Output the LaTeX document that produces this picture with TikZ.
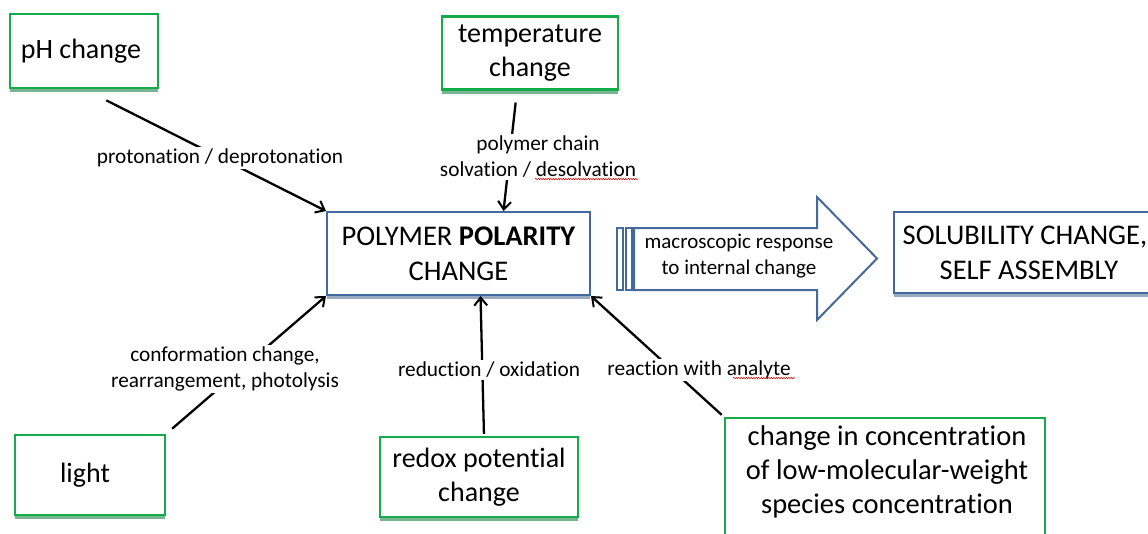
\documentclass[tikz,border=0pt]{standalone}
\usepackage{fontspec}
\setmainfont{Carlito}[Ligatures=NoCommon]
\usetikzlibrary{shadows,decorations.pathmorphing,arrows.meta}
\definecolor{gcol}{RGB}{20,172,75}
\definecolor{bcol}{RGB}{65,105,160}
\definecolor{acol}{RGB}{70,105,155}
\begin{document}
\begin{tikzpicture}[x=1pt,y=-1pt,
  gbox/.style={draw=gcol, line width=2.2pt, fill=white, inner sep=0pt, align=center,
    font=\fontsize{28}{34}\selectfont,
    drop shadow={shadow xshift=0pt, shadow yshift=-4pt, fill=gcol!70!black, opacity=0.55}},
  bbox/.style={draw=bcol, line width=2pt, fill=white, inner sep=0pt, align=center,
    font=\fontsize{28.5}{35}\selectfont,
    drop shadow={shadow xshift=0pt, shadow yshift=-4pt, fill=bcol!80!black, opacity=0.5}},
  conn/.style={draw=black, line width=2.3pt, -{Straight Barb[length=8pt,width=13pt,line width=2pt]}},
  lbl/.style={fill=white, inner sep=2pt, align=center, font=\fontsize{21.3}{26}\selectfont},
  squig/.style={draw=red!80!black, line width=0.5pt, decorate, decoration={snake, amplitude=0.7pt, segment length=2.5pt}}
]
\useasboundingbox (0,0) rectangle (1148,533);
\fill[white] (0,0) rectangle (1148,533);

% boxes
\node[gbox, minimum width=148pt, minimum height=74pt] (ph) at (84,51) {pH change\hspace*{6pt}};
\node[gbox, minimum width=176pt, minimum height=73pt] (temp) at (530,53) {temperature\\change};
\node[gbox, minimum width=150pt, minimum height=80pt] (light) at (90,475) {light\hspace*{10pt}};
\node[gbox, minimum width=198pt, minimum height=80pt] (redox) at (479,477) {redox potential\\change};
\node[gbox, minimum width=320pt, minimum height=124pt] (conc) at (885,480) {};
\node[align=center, font=\fontsize{28.5}{34}\selectfont] (conctxt) at (887,472)
  {change in concentration\\of low-molecular-weight\\species concentration};
\node[bbox, minimum width=263pt, minimum height=83pt] (poly) at (458.5,253.5)
  {POLYMER \textbf{POLARITY}\\CHANGE};
\node[bbox, minimum width=270pt, minimum height=81pt, anchor=west] (sol) at (893,252.5)
  {SOLUBILITY CHANGE,\hspace*{8pt}\\SELF ASSEMBLY};

% block arrow
\draw[draw=acol, line width=2pt, fill=white]
  (634,228) -- (817,228) -- (817,197) -- (877,258.5) -- (817,320) -- (817,290) -- (634,290) -- cycle;
\draw[draw=acol, line width=1.6pt, fill=white] (617,228) rectangle (623,290);
\draw[draw=acol, line width=1.6pt, fill=white] (626,228) rectangle (632,290);
\node[align=center, font=\fontsize{21}{26}\selectfont] (resp) at (739,256)
  {macroscopic response\\to internal change};

% connectors
\draw[conn, shorten <=25pt] (ph.south) -- (poly.north west);
\draw[conn, shorten <=12pt] ([xshift=-13pt]temp.south) -- ([xshift=45pt]poly.north);
\draw[conn, shorten <=8pt] (light.north east) -- (poly.south west);
\draw[conn, shorten <=2pt] ([xshift=5pt]redox.north) -- ([xshift=22pt]poly.south);
\draw[conn, shorten <=3pt] (conc.north west) -- (poly.south east);

% labels
\node[lbl] (l1) at (220,158) {protonation / deprotonation};
\node[lbl] (l2) at (538,157) {polymer chain\\solvation / desolvation};
\node[lbl] (l3) at (225,369) {conformation change,\\rearrangement, photolysis};
\node[lbl] (l4) at (489,370) {reduction / oxidation};
\node[lbl] (l5) at (699,370) {reaction with analyte};

% spell-check squiggles
\draw[squig] (535,179) -- (638,179);
\draw[squig] (733,378) -- (795,378);
\end{tikzpicture}
\end{document}
